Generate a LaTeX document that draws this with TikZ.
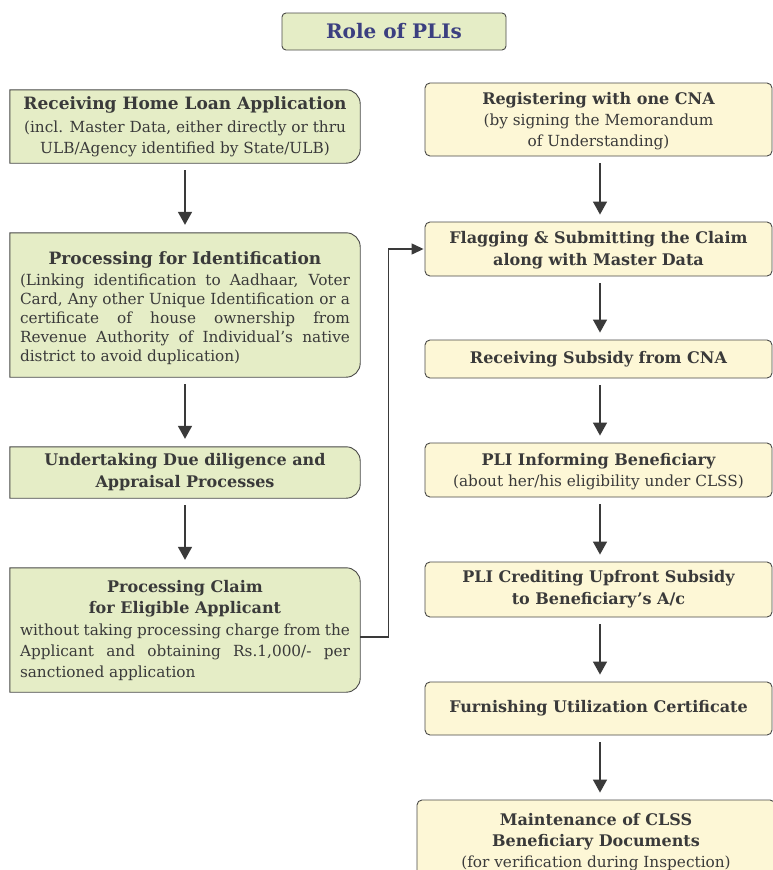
\documentclass[tikz,border=0pt]{standalone}
\usepackage{fontspec}
\setmainfont{DejaVu Serif}
\usetikzlibrary{arrows.meta}
\definecolor{lfill}{HTML}{E5EDC6}
\definecolor{rfill}{HTML}{FDF7D6}
\definecolor{edge}{HTML}{4A4A48}
\definecolor{ink}{HTML}{3A3A3A}
\definecolor{titleink}{HTML}{3B3F80}
\newcommand\hd{\fontsize{16}{22}\selectfont\bfseries}
\newcommand\hdl{\fontsize{17}{21}\selectfont\bfseries}
\newcommand\bd{\fontsize{15.3}{21}\selectfont}
\newcommand\jline[1]{\makebox[330pt][s]{#1}}
\newcommand\lline[1]{\makebox[330pt][l]{#1}}
\begin{document}
\begin{tikzpicture}[x=1pt,y=-1pt,
  box/.style={draw=none,inner sep=0pt,align=center,text=ink,font=\bd},
  lbox/.style={box,minimum width=350pt},
  rbox/.style={box,minimum width=347pt},
  flowarrow/.style={draw=ink,line width=1.5pt,-{Triangle[width=14pt,length=13pt]},shorten >=8pt,shorten <=7pt},
]
\useasboundingbox[fill=white] (0,0) rectangle (773,870);

% title
\node[draw=edge,line width=0.9pt,fill=lfill,rounded corners=4pt,minimum width=224pt,minimum height=37pt,
      text=titleink,font=\fontsize{20}{22}\selectfont\bfseries] (title) at (394,31.5) {Role of PLIs};

% left column
\node[lbox,minimum height=73pt] (L1) at (185,126.5) {};
\node[lbox,minimum height=144pt] (L2) at (185,305) {};
\node[lbox,minimum height=51pt] (L3) at (185,472.5) {};
\node[lbox,minimum height=124pt] (L4) at (185,630) {};
\foreach \n in {L1,L2,L3,L4}{
  \draw[draw=edge,line width=0.9pt,fill=lfill] (\n.south west) -- (\n.north west)
     [rounded corners=14pt] -- (\n.north east) -- (\n.south east) [sharp corners] -- cycle;
}
\node[box] (L1t) at (L1) {{\hdl Receiving Home Loan Application}\\[2pt]
  (incl. Master Data, either directly or thru\\ULB/Agency identified by State/ULB)};
\node[box,font=\fontsize{15.3}{19}\selectfont,yshift=-3.5pt] (L2t) at (L2) {{\hdl Processing for Identification}\\[2pt]
  \jline{(Linking identification to Aadhaar, Voter}\\
  \jline{Card, Any other Unique Identification or a}\\
  \jline{certificate of house ownership from}\\
  \jline{Revenue Authority of Individual's native}\\
  \lline{district to avoid duplication)}};
\node[box,font=\hd] (L3t) at (L3) {Undertaking Due diligence and\\Appraisal Processes};
\node[box,yshift=-0.5pt] (L4t) at (L4) {{\hd Processing Claim}\\{\hd for Eligible Applicant}\\[1pt]
  \jline{without taking processing charge from the}\\
  \jline{Applicant and obtaining Rs.1,000/- per}\\
  \lline{sanctioned application}};

% right column
\node[rbox,minimum height=73pt,draw=edge,line width=0.9pt,fill=rfill,rounded corners=5pt] (R1) at (598.5,119.5) {};
\node[box,yshift=-2pt] (R1t) at (R1) {{\hd Registering with one CNA}\\(by signing the Memorandum\\of Understanding)};
\node[rbox,minimum height=54pt,draw=edge,line width=0.9pt,fill=rfill,rounded corners=5pt] (R2) at (598.5,249) {};
\node[box,font=\hd,yshift=-1pt] (R2t) at (R2) {Flagging \& Submitting the Claim\\along with Master Data};
\node[rbox,minimum height=38pt,draw=edge,line width=0.9pt,fill=rfill,rounded corners=5pt,font=\hd] (R3) at (598.5,359)
  {Receiving Subsidy from CNA};
\node[rbox,minimum height=54pt,draw=edge,line width=0.9pt,fill=rfill,rounded corners=5pt] (R4) at (598.5,470) {};
\node[box,yshift=-2pt] (R4t) at (R4) {{\hd PLI Informing Beneficiary}\\(about her/his eligibility under CLSS)};
\node[rbox,minimum height=55pt,draw=edge,line width=0.9pt,fill=rfill,rounded corners=5pt,font=\hd] (R5) at (598.5,589.5)
  {PLI Crediting Upfront Subsidy\\to Beneficiary's A/c};
\node[rbox,minimum height=53pt,draw=edge,line width=0.9pt,fill=rfill,rounded corners=5pt,font=\hd] (R6) at (598.5,708.5)
  {Furnishing Utilization Certificate};
\node[box,minimum width=358pt,minimum height=84pt,draw=edge,line width=0.9pt,fill=rfill,rounded corners=5pt] (R7) at (596,842)
  {{\hd Maintenance of CLSS}\\{\hd Beneficiary Documents}\\(for verification during Inspection)};

% arrows
\draw[flowarrow] (L1) -- (L2);
\draw[flowarrow] (L2) -- (L3);
\draw[flowarrow] (L3) -- (L4);
\draw[flowarrow,shorten >=7pt] (R1.south -| 600,0) -- (R2.north -| 600,0);
\draw[flowarrow,shorten >=7pt] (R2.south -| 600,0) -- (R3.north -| 600,0);
\draw[flowarrow,shorten >=7pt] (R3.south -| 600,0) -- (R4.north -| 600,0);
\draw[flowarrow,shorten >=7pt] (R4.south -| 600,0) -- (R5.north -| 600,0);
\draw[flowarrow,shorten >=7pt] (R5.south -| 600,0) -- (R6.north -| 600,0);
\draw[flowarrow,shorten >=7pt] (R6.south -| 600,0) -- (R7.north -| 600,0);
\draw[draw=ink,line width=1.3pt,-{Triangle[width=11pt,length=12pt]},shorten >=1pt]
  ([yshift=-7pt]L4.east) -- ++(28,0) |- (R2.west);
\end{tikzpicture}
\end{document}
